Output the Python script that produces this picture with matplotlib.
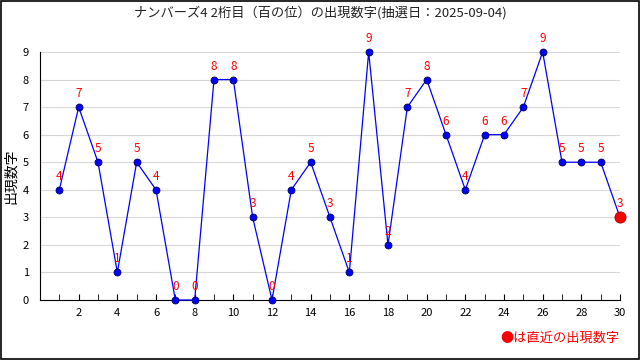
import matplotlib
matplotlib.use("Agg")
import matplotlib.pyplot as plt

plt.rcParams['font.family'] = ['Noto Sans CJK JP', 'DejaVu Sans']

draws = list(range(1, 31))
digits = [4, 7, 5, 1, 5, 4, 0, 0, 8, 8, 3, 0, 4, 5, 3, 1, 9, 2, 7, 8,
          6, 4, 6, 6, 7, 9, 5, 5, 5, 3]
title = "ナンバーズ4 2桁目（百の位）の出現数字(抽選日：2025-09-04)"

fig = plt.figure(figsize=(6.4, 3.6), dpi=100)
ax = fig.add_axes([40 / 640, 60 / 360, 580 / 640, 248 / 360])

# frame around the whole picture
fig.patches.append(plt.Rectangle((0.001, 0.002), 0.997, 0.995, transform=fig.transFigure,
                                 fill=False, edgecolor='black', linewidth=1.2))

ax.plot(draws, digits, color='blue', linewidth=0.9, marker='o', markersize=5,
        markerfacecolor='blue', markeredgecolor='#000066', markeredgewidth=0.6,
        clip_on=False, zorder=3)
ax.plot(draws[-1], digits[-1], 'o', color='red', markersize=8, markeredgecolor='#990000',
        markeredgewidth=0.6, clip_on=False, zorder=4)

for x, y in zip(draws, digits):
    ax.annotate(str(y), (x, y), xytext=(0, 5), textcoords='offset points',
                ha='center', va='bottom', color='red', fontsize=8.5, zorder=5)

ax.set_xlim(0, 30)
ax.set_ylim(0, 9)
ax.set_yticks(range(0, 10))
ax.set_xticks(range(2, 31, 2))
ax.set_xticks(range(1, 31), minor=True)
ax.grid(axis='y', color='#d8d8d8', linewidth=0.8)
ax.set_axisbelow(True)
ax.tick_params(axis='y', length=0, pad=8, labelsize=8)
ax.tick_params(axis='x', which='both', direction='in', length=4, labelsize=8, pad=6)
for s in ['top', 'right']:
    ax.spines[s].set_visible(False)

ax.set_ylabel("出現数字", fontsize=10, labelpad=3)
fig.text(0.5, 0.965, title, ha='center', va='center', fontsize=9.5, color='#222222')
fig.text(620 / 640, 1 - 338 / 360, "●は直近の出現数字", ha='right', va='center',
         color='red', fontsize=9.5)

fig.savefig("out.png", dpi=100)
